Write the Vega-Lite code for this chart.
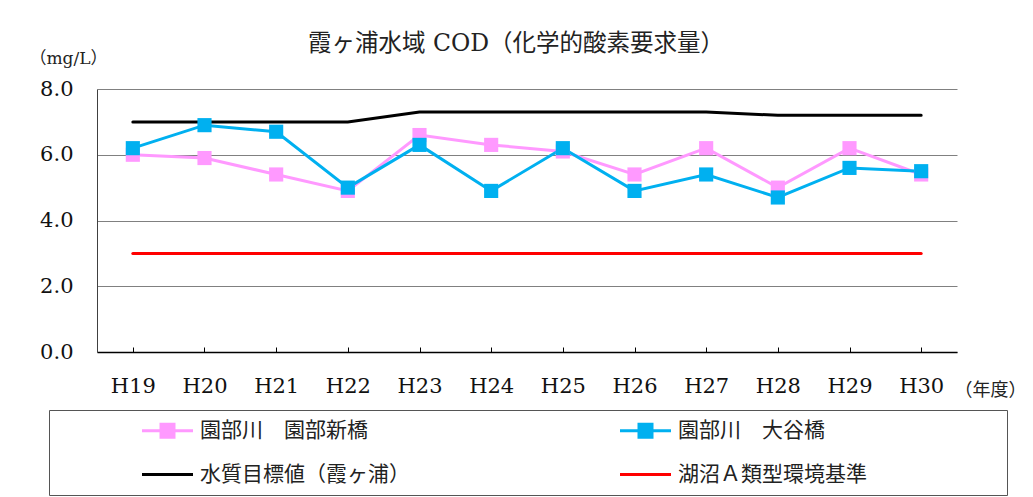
{
  "$schema": "https://vega.github.io/schema/vega-lite/v6.json",
  "autosize": "none",
  "width": 860,
  "height": 263,
  "padding": {"left": 97, "top": 89, "right": 76, "bottom": 145},
  "background": "white",
  "title": {
    "text": "霞ヶ浦水域 COD（化学的酸素要求量）",
    "font": "DejaVu Serif, Noto Sans CJK JP",
    "fontSize": 23.5,
    "fontWeight": "normal",
    "color": "#222222",
    "anchor": "middle",
    "dx": -11,
    "offset": -6
  },
  "config": {
    "view": {"stroke": null},
    "font": "DejaVu Serif, Noto Sans CJK JP"
  },
  "data": {
    "values": [
      {"year": "H19", "series": "水質目標値（霞ヶ浦）", "value": 7.0},
      {"year": "H20", "series": "水質目標値（霞ヶ浦）", "value": 7.0},
      {"year": "H21", "series": "水質目標値（霞ヶ浦）", "value": 7.0},
      {"year": "H22", "series": "水質目標値（霞ヶ浦）", "value": 7.0},
      {"year": "H23", "series": "水質目標値（霞ヶ浦）", "value": 7.3},
      {"year": "H24", "series": "水質目標値（霞ヶ浦）", "value": 7.3},
      {"year": "H25", "series": "水質目標値（霞ヶ浦）", "value": 7.3},
      {"year": "H26", "series": "水質目標値（霞ヶ浦）", "value": 7.3},
      {"year": "H27", "series": "水質目標値（霞ヶ浦）", "value": 7.3},
      {"year": "H28", "series": "水質目標値（霞ヶ浦）", "value": 7.2},
      {"year": "H29", "series": "水質目標値（霞ヶ浦）", "value": 7.2},
      {"year": "H30", "series": "水質目標値（霞ヶ浦）", "value": 7.2},
      {"year": "H19", "series": "湖沼Ａ類型環境基準", "value": 3.0},
      {"year": "H20", "series": "湖沼Ａ類型環境基準", "value": 3.0},
      {"year": "H21", "series": "湖沼Ａ類型環境基準", "value": 3.0},
      {"year": "H22", "series": "湖沼Ａ類型環境基準", "value": 3.0},
      {"year": "H23", "series": "湖沼Ａ類型環境基準", "value": 3.0},
      {"year": "H24", "series": "湖沼Ａ類型環境基準", "value": 3.0},
      {"year": "H25", "series": "湖沼Ａ類型環境基準", "value": 3.0},
      {"year": "H26", "series": "湖沼Ａ類型環境基準", "value": 3.0},
      {"year": "H27", "series": "湖沼Ａ類型環境基準", "value": 3.0},
      {"year": "H28", "series": "湖沼Ａ類型環境基準", "value": 3.0},
      {"year": "H29", "series": "湖沼Ａ類型環境基準", "value": 3.0},
      {"year": "H30", "series": "湖沼Ａ類型環境基準", "value": 3.0},
      {"year": "H19", "series": "園部川　園部新橋", "value": 6.0},
      {"year": "H20", "series": "園部川　園部新橋", "value": 5.9},
      {"year": "H21", "series": "園部川　園部新橋", "value": 5.4},
      {"year": "H22", "series": "園部川　園部新橋", "value": 4.9},
      {"year": "H23", "series": "園部川　園部新橋", "value": 6.6},
      {"year": "H24", "series": "園部川　園部新橋", "value": 6.3},
      {"year": "H25", "series": "園部川　園部新橋", "value": 6.1},
      {"year": "H26", "series": "園部川　園部新橋", "value": 5.4},
      {"year": "H27", "series": "園部川　園部新橋", "value": 6.2},
      {"year": "H28", "series": "園部川　園部新橋", "value": 5.0},
      {"year": "H29", "series": "園部川　園部新橋", "value": 6.2},
      {"year": "H30", "series": "園部川　園部新橋", "value": 5.4},
      {"year": "H19", "series": "園部川　大谷橋", "value": 6.2},
      {"year": "H20", "series": "園部川　大谷橋", "value": 6.9},
      {"year": "H21", "series": "園部川　大谷橋", "value": 6.7},
      {"year": "H22", "series": "園部川　大谷橋", "value": 5.0},
      {"year": "H23", "series": "園部川　大谷橋", "value": 6.3},
      {"year": "H24", "series": "園部川　大谷橋", "value": 4.9},
      {"year": "H25", "series": "園部川　大谷橋", "value": 6.2},
      {"year": "H26", "series": "園部川　大谷橋", "value": 4.9},
      {"year": "H27", "series": "園部川　大谷橋", "value": 5.4},
      {"year": "H28", "series": "園部川　大谷橋", "value": 4.7},
      {"year": "H29", "series": "園部川　大谷橋", "value": 5.6},
      {"year": "H30", "series": "園部川　大谷橋", "value": 5.5}
    ]
  },
  "encoding": {
    "x": {
      "field": "year",
      "type": "ordinal",
      "scale": {"type": "point", "padding": 0.5},
      "axis": {
        "title": "（年度）",
        "titleFont": "DejaVu Serif, Noto Sans CJK JP",
        "titleFontSize": 18,
        "titleFontWeight": "normal",
        "titleColor": "#222222",
        "titleAlign": "left",
        "titleBaseline": "middle",
        "titleAnchor": "start",
        "titleX": 857,
        "titleY": 38,
        "labelFont": "DejaVu Serif",
        "labelFontSize": 21,
        "labelColor": "#111111",
        "labelAngle": 0,
        "labelPadding": 28,
        "domainColor": "#000000",
        "domainWidth": 1.5,
        "tickColor": "#000000",
        "tickSize": -5,
        "grid": false
      }
    },
    "y": {
      "field": "value",
      "type": "quantitative",
      "scale": {"domain": [0, 8], "nice": false},
      "axis": {
        "title": "（mg/L）",
        "titleFont": "DejaVu Serif, Noto Sans CJK JP",
        "titleFontSize": 17,
        "titleFontWeight": "normal",
        "titleColor": "#222222",
        "titleAngle": 0,
        "titleAlign": "left",
        "titleBaseline": "middle",
        "titleX": -68,
        "titleY": -31,
        "values": [0, 2, 4, 6, 8],
        "format": ".1f",
        "labelFont": "DejaVu Serif",
        "labelFontSize": 21,
        "labelColor": "#111111",
        "labelPadding": 24,
        "ticks": false,
        "domainColor": "#404040",
        "domainWidth": 1,
        "grid": true,
        "gridColor": "#808080",
        "gridWidth": 1
      }
    },
    "color": {
      "field": "series",
      "type": "nominal",
      "scale": {
        "domain": ["園部川　園部新橋", "園部川　大谷橋", "水質目標値（霞ヶ浦）", "湖沼Ａ類型環境基準"],
        "range": ["#FF99FF", "#00B0F0", "#000000", "#FF0000"]
      }
    }
  },
  "layer": [
    {
      "mark": {"type": "line", "strokeWidth": 3, "strokeCap": "round"},
      "encoding": {
        "color": {
          "field": "series",
          "type": "nominal",
          "sort": null,
          "legend": {
            "orient": "none",
            "legendX": -48,
            "legendY": 321,
            "columns": 2,
            "direction": "horizontal",
            "title": " ",
            "titleOrient": "right",
            "titleFontSize": 1,
            "titlePadding": 130,
            "padding": 10,
            "strokeColor": "#555555",
            "fillColor": "white",
            "labelFont": "Noto Sans CJK JP",
            "labelFontSize": 21,
            "labelColor": "#222222",
            "labelLimit": 400,
            "symbolSize": 400,
            "symbolOffset": 98,
            "labelOffset": 22,
            "columnPadding": 127,
            "rowPadding": 22,
            "encode": {
              "symbols": {
                "update": {
                  "shape": {"signal": "indexof(['園部川　園部新橋','園部川　大谷橋'], datum.value) >= 0 ? 'M-2.55,-0.15H2.55V0.15H-2.55Z M-0.8,-0.8H0.8V0.8H-0.8Z' : 'M-2.55,-0.15H2.55V0.15H-2.55Z'"},
                  "fill": {"scale": "color", "field": "value"},
                  "stroke": {"value": "transparent"},
                  "strokeWidth": {"value": 0},
                  "size": {"value": 400},
                  "opacity": {"value": 1}
                }
              }
            }
          }
        }
      }
    },
    {
      "transform": [{"filter": "indexof(['園部川　園部新橋','園部川　大谷橋'], datum.series) >= 0"}],
      "mark": {"type": "point", "shape": "square", "filled": true, "size": 200, "opacity": 1},
      "encoding": {
        "color": {"field": "series", "type": "nominal", "legend": null}
      }
    }
  ]
}
